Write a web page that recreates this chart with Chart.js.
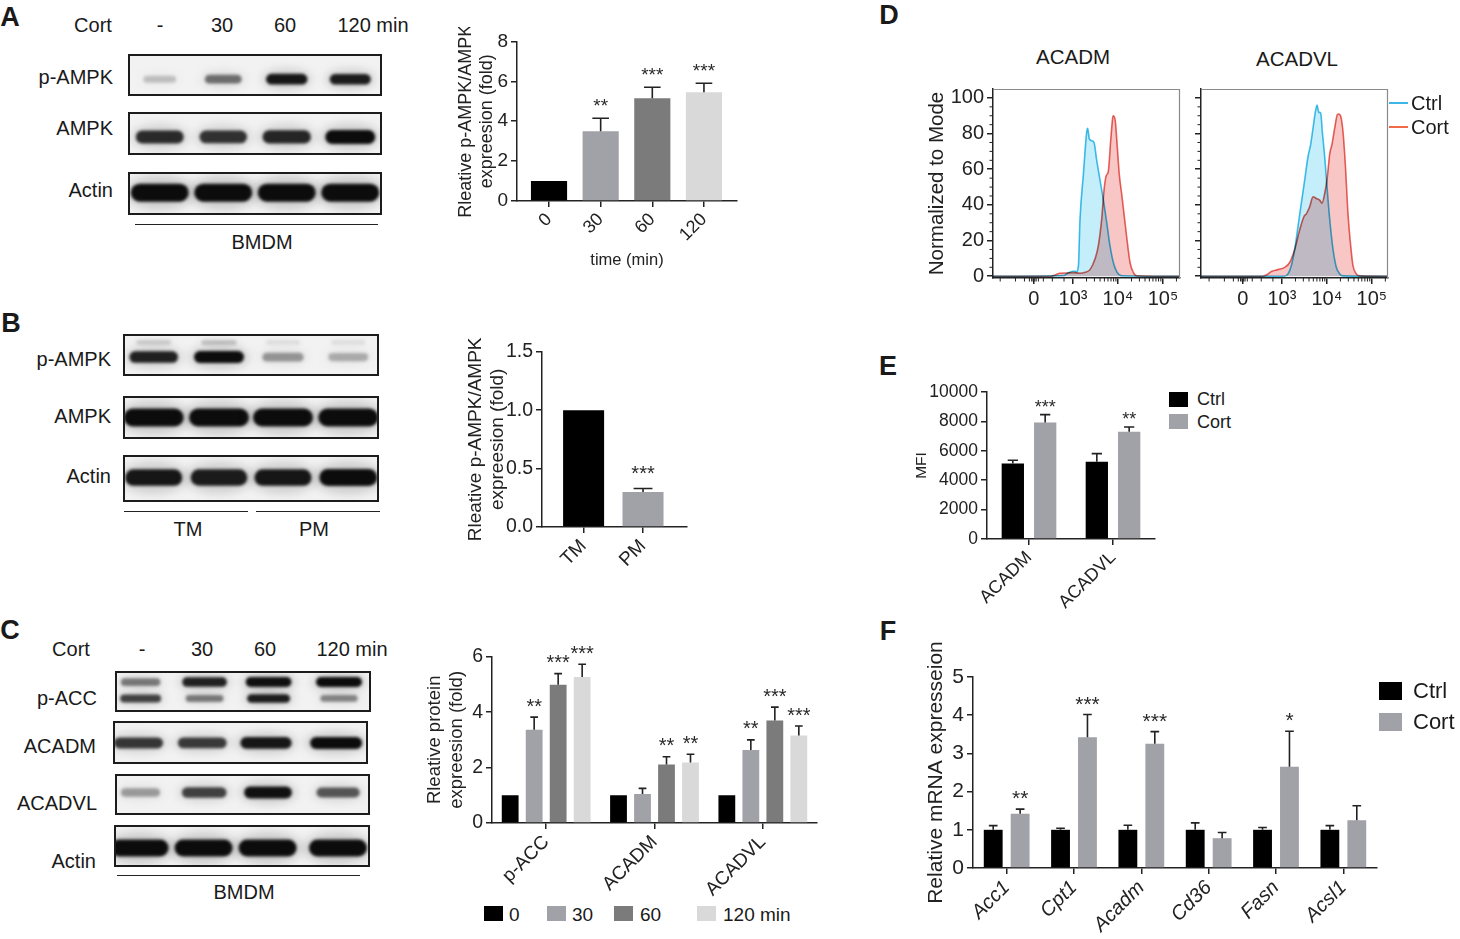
<!DOCTYPE html>
<html>
<head>
<meta charset="utf-8">
<title>Cort / AMPK figure</title>
<script src="https://cdn.jsdelivr.net/npm/chart.js@4.4.1/dist/chart.umd.min.js"></script>
<style>
  html, body { margin: 0; padding: 0; background: #fff; }
  body { position: relative; width: 1460px; height: 939px; overflow: hidden;
         font-family: 'Liberation Sans', Arial, sans-serif; color: #1a1a1a; }
  canvas { position: absolute; }
  .t { position: absolute; white-space: nowrap; line-height: 1; }
  .rule { position: absolute; height: 0; border-top: 1.5px solid #222; }
  .key { position: absolute; }
</style>
</head>
<body>
<script>
// ---------- data ----------

// A: p-AMPK/AMPK over time
const timeLabels = ['0', '30', '60', '120'];
const timeFold = [1.0, 3.5, 5.15, 5.45];
const timeErr = [null, 4.15, 5.7, 5.9];
const timeStars = ['', '**', '***', '***'];

// B: TM vs PM
const siteLabels = ['TM', 'PM'];
const siteFold = [1.0, 0.30];
const siteErr = [null, 0.33];
const siteStars = ['', '***'];

// C: protein levels, four time points
const proteinLabels = ['p-ACC', 'ACADM', 'ACADVL'];
const prot0 = [1, 1, 1];
const prot30 = [3.36, 1.05, 2.63];
const prot60 = [4.99, 2.11, 3.70];
const prot120 = [5.27, 2.18, 3.16];
const prot30Err = [3.82, 1.25, 3.0];
const prot60Err = [5.39, 2.39, 4.18];
const prot120Err = [5.73, 2.48, 3.5];
const prot30Stars = ['**', '', '**'];
const prot60Stars = ['***', '**', '***'];
const prot120Stars = ['***', '**', '***'];

// D: flow histograms (x in log10 units of intensity, y in % of mode)
const flowTickPos = [2.13, 3, 4, 5];
const flowTickLabels = ['0', '10³', '10⁴', '10⁵'];
const flowYTicks = [0, 20, 40, 60, 80, 100];
const flowMinorY = [5, 10, 15, 25, 30, 35, 45, 50, 55, 65, 70, 75, 85, 90, 95];
const flowMinorX = [1.38, 1.72, 1.92, 2.03, 2.08, 2.11, 2.15, 2.18, 2.23, 2.34, 2.54, 2.8,
  3.301, 3.477, 3.602, 3.699, 3.778, 3.845, 3.903, 3.954,
  4.301, 4.477, 4.602, 4.699, 4.778, 4.845, 4.903, 4.954, 5.301];

const acadmCtrlX = [1.22, 2.8, 2.9, 3.0, 3.08, 3.12, 3.155, 3.23, 3.305, 3.327, 3.362, 3.415, 3.467, 3.527, 3.6, 3.674, 3.75, 3.823, 3.897, 3.972, 4.083, 5.38];
const acadmCtrlY = [0, 0.4, 2.0, 2.8, 2.6, 5.9, 31.7, 57, 81, 83, 77, 76, 75, 65, 54, 43, 30, 17, 7.7, 2.6, 0.3, 0];
const acadmCortX = [1.22, 2.5, 2.6, 2.71, 2.86, 3.0, 3.155, 3.267, 3.378, 3.489, 3.563, 3.638, 3.689, 3.734, 3.786, 3.838, 3.883, 3.897, 3.941, 3.986, 4.03, 4.083, 4.134, 4.194, 4.268, 4.341, 4.417, 5.38];
const acadmCortY = [0, 0, 0.7, 1.7, 1.8, 2.0, 1.7, 2.2, 3.7, 9.6, 17, 32, 48, 56, 59, 76, 89, 90, 87, 72, 57, 46, 35, 22, 7.7, 2.2, 0.3, 0];

const acadvlCtrlX = [1.2, 3.05, 3.135, 3.209, 3.284, 3.358, 3.432, 3.507, 3.58, 3.64, 3.692, 3.743, 3.781, 3.818, 3.863, 3.899, 3.952, 4.01, 4.063, 4.137, 4.21, 4.286, 4.359, 5.36];
const acadvlCtrlY = [0, 0, 1.3, 5.9, 15, 28, 41, 54, 67, 74, 83, 92, 96, 92, 91.5, 81, 67, 48, 32, 15, 5, 1.3, 0.2, 0];
const acadvlCortX = [1.2, 2.55, 2.653, 2.764, 2.913, 3.062, 3.173, 3.284, 3.396, 3.491, 3.543, 3.618, 3.692, 3.766, 3.84, 3.892, 3.952, 4.01, 4.063, 4.114, 4.174, 4.233, 4.263, 4.308, 4.359, 4.41, 4.47, 4.53, 4.581, 4.655, 4.73, 5.36];
const acadvlCortY = [0, 0, 0.7, 2.6, 3.7, 5, 7.7, 15, 26, 33.5, 35, 39, 44.6, 43.6, 42.7, 41, 46.4, 55.6, 68.5, 74, 83, 90.6, 91, 89.7, 81, 63, 35, 17, 5.9, 1.3, 0.2, 0];

// E: MFI
const mfiLabels = ['ACADM', 'ACADVL'];
const mfiCtrl = [5140, 5250];
const mfiCtrlErr = [5360, 5810];
const mfiCort = [7920, 7290];
const mfiCortErr = [8460, 7620];
const mfiStars = ['***', '**'];

// F: mRNA
const geneLabels = ['Acc1', 'Cpt1', 'Acadm', 'Cd36', 'Fasn', 'Acsl1'];
const mrnaCtrl = [1, 1, 1, 1, 1, 1];
const mrnaCtrlErr = [1.11, 1.04, 1.12, 1.18, 1.06, 1.11];
const mrnaCort = [1.42, 3.42, 3.25, 0.78, 2.65, 1.25];
const mrnaCortErr = [1.54, 4.02, 3.57, 0.93, 3.58, 1.63];
const mrnaStars = ['**', '***', '***', '', '*', ''];

// western blot band darkness per lane (0..1)
const blotA_pAMPK = [0.2, 0.55, 0.95, 0.92];
const blotA_AMPK = [0.85, 0.82, 0.88, 1.0];
const blotA_Actin = [1, 1, 1, 1];
const blotB_pAMPK = [0.9, 1.0, 0.38, 0.28];
const blotB_pAMPKupper = [0.15, 0.18, 0.08, 0.08];
const blotB_AMPK = [1, 1, 1, 1];
const blotB_Actin = [0.95, 0.92, 0.95, 1];
const blotC_pACCupper = [0.5, 0.9, 0.98, 1.0];
const blotC_pACClower = [0.75, 0.5, 0.92, 0.45];
const blotC_ACADM = [0.8, 0.78, 0.95, 1.0];
const blotC_ACADVL = [0.35, 0.75, 0.98, 0.65];
const blotC_Actin = [1, 1, 1, 1];

// ---------- colours ----------
const INK = '#222';
const FONT = "'Liberation Sans', Arial, sans-serif";
const grey30 = '#a1a1a8';
const grey60 = '#7b7b7b';
const grey120 = '#d9d9d9';

Chart.defaults.font.family = FONT;
Chart.defaults.color = INK;
Chart.defaults.animation = false;
Chart.defaults.events = [];
Chart.defaults.plugins.legend.display = false;
Chart.defaults.plugins.tooltip.enabled = false;

// ---------- helpers ----------
function mount(area, pad) {
  const cv = document.createElement('canvas');
  cv.width = area.r - area.l + pad.l + pad.r;
  cv.height = area.b - area.t + pad.t + pad.b;
  cv.style.left = (area.l - pad.l) + 'px';
  cv.style.top = (area.t - pad.t) + 'px';
  document.body.appendChild(cv);
  return cv;
}

function axisLines() {
  return {
    grid: { drawOnChartArea: false, color: INK, lineWidth: 1.5, tickLength: 6, offset: false },
    border: { color: INK, width: 1.5 }
  };
}

function yScale(o, width) {
  return Object.assign({
    min: o.min, max: o.max,
    ticks: { stepSize: o.step, font: { size: o.font }, color: INK, padding: 3, callback: o.fmt || (v => String(v)) },
    title: { display: !!o.title, text: o.title || '', font: { size: o.titleSize }, color: INK, padding: { top: 4, bottom: 4 } },
    afterFit: s => { s.width = width; }
  }, axisLines());
}

function xCategory(o, height) {
  return Object.assign({
    type: 'category', offset: true,
    ticks: { font: { size: o.font, style: o.style || 'normal' }, color: INK, minRotation: 45, maxRotation: 45, autoSkip: false, padding: 2 },
    afterFit: s => { s.height = height; }
  }, axisLines());
}

function xIndex(o, height) {
  return Object.assign({
    type: 'linear', min: o.min, max: o.max, offset: false,
    afterBuildTicks: s => { s.ticks = o.labels.map((_, i) => ({ value: i })); },
    ticks: { font: { size: o.font }, color: INK, minRotation: 45, maxRotation: 45, autoSkip: false, padding: 2,
             callback: v => o.labels[Math.round(v)] },
    title: { display: !!o.title, text: o.title || '', font: { size: o.titleSize }, color: INK, padding: { top: 4, bottom: 4 } },
    afterFit: s => { s.height = height; }
  }, axisLines());
}

// error caps and significance stars on top of the bars
const errorBars = {
  id: 'errorBars',
  afterDatasetsDraw(chart, args, o) {
    const ctx = chart.ctx;
    const ys = chart.scales.y;
    ctx.save();
    chart.data.datasets.forEach((ds, di) => {
      chart.getDatasetMeta(di).data.forEach((bar, i) => {
        let top = bar.y;
        const e = ds.errTop ? ds.errTop[i] : null;
        if (e != null) {
          top = ys.getPixelForValue(e);
          const half = bar.width * 0.23;
          ctx.strokeStyle = INK;
          ctx.lineWidth = 1.6;
          ctx.beginPath();
          ctx.moveTo(bar.x, bar.y);
          ctx.lineTo(bar.x, top);
          ctx.moveTo(bar.x - half, top);
          ctx.lineTo(bar.x + half, top);
          ctx.stroke();
        }
        const s = ds.stars ? ds.stars[i] : '';
        if (s) {
          ctx.fillStyle = '#2a2a2a';
          ctx.font = o.size + 'px ' + FONT;
          ctx.textAlign = 'center';
          ctx.textBaseline = 'alphabetic';
          ctx.fillText(s, bar.x, top - o.gap + 0.58 * o.size);
        }
      });
    });
    ctx.restore();
  }
};

function barChart(area, pad, o) {
  const cv = mount(area, pad);
  return new Chart(cv, {
    type: 'bar',
    data: { labels: o.labels, datasets: o.datasets },
    options: {
      responsive: false,
      layout: { padding: { top: pad.t, right: pad.r, left: 0, bottom: 0 } },
      datasets: { bar: { categoryPercentage: o.catPct, barPercentage: o.barPct, borderWidth: 0 } },
      scales: { x: o.x, y: o.y },
      plugins: { errorBars: o.stars }
    },
    plugins: [errorBars]
  });
}

const pts = (xs, ys) => xs.map((x, i) => ({ x: x, y: ys[i] }));

// fills multiply so the overlap turns grey-blue as in the cytometry overlay
const multiplyFill = {
  id: 'multiplyFill',
  beforeDatasetsDraw(chart) { chart.ctx.save(); chart.ctx.globalCompositeOperation = 'multiply'; },
  afterDatasetsDraw(chart) { chart.ctx.restore(); }
};

const flowFrame = {
  id: 'flowFrame',
  afterDraw(chart, args, o) {
    const { ctx, chartArea: a, scales } = chart;
    ctx.save();
    ctx.strokeStyle = '#8a8a8a';
    ctx.lineWidth = 1.2;
    ctx.beginPath();
    ctx.moveTo(a.left, a.top + 0.5);
    ctx.lineTo(a.right - 0.5, a.top + 0.5);
    ctx.lineTo(a.right - 0.5, a.bottom);
    ctx.stroke();
    ctx.strokeStyle = INK;
    ctx.lineWidth = 1;
    ctx.beginPath();
    o.minorX.forEach(v => {
      const px = scales.x.getPixelForValue(v);
      ctx.moveTo(px, a.bottom); ctx.lineTo(px, a.bottom + 3.5);
    });
    o.minorY.forEach(v => {
      const py = scales.y.getPixelForValue(v);
      ctx.moveTo(a.left, py); ctx.lineTo(a.left - 3.5, py);
    });
    ctx.stroke();
    ctx.restore();
  }
};

function flowChart(area, pad, o) {
  const cv = mount(area, pad);
  return new Chart(cv, {
    type: 'line',
    data: {
      datasets: [
        { data: pts(o.ctrlX, o.ctrlY), borderColor: '#42c0ea', backgroundColor: '#c3eefa', fill: 'origin' },
        { data: pts(o.cortX, o.cortY), borderColor: '#e6655e', backgroundColor: '#f9c6c6', fill: 'origin' }
      ]
    },
    options: {
      responsive: false,
      layout: { padding: { top: pad.t, right: pad.r, left: 0, bottom: 0 } },
      elements: { point: { radius: 0 }, line: { borderWidth: 1.6, cubicInterpolationMode: 'monotone' } },
      scales: {
        x: Object.assign({
          type: 'linear', min: o.min, max: o.max,
          afterBuildTicks: s => { s.ticks = flowTickPos.map(v => ({ value: v })); },
          ticks: { font: { size: 20 }, color: INK, minRotation: 0, maxRotation: 0, padding: 3,
                   callback: (v, i) => flowTickLabels[i] },
          afterFit: s => { s.height = pad.b; }
        }, axisLines()),
        y: Object.assign({
          min: -1, max: 105,
          afterBuildTicks: s => { s.ticks = flowYTicks.map(v => ({ value: v })); },
          ticks: { font: { size: 20 }, color: INK, padding: 3, callback: v => o.showY ? String(v) : '' },
          title: { display: o.showY, text: 'Normalized to Mode', font: { size: 20.5 }, color: INK, padding: { top: 4, bottom: 4 } },
          afterFit: s => { s.width = pad.l; }
        }, axisLines())
      },
      plugins: { flowFrame: { minorX: flowMinorX, minorY: flowMinorY } }
    },
    plugins: [multiplyFill, flowFrame]
  });
}

function label(text, x, y, size, opts) {
  opts = opts || {};
  const d = document.createElement('div');
  d.className = 't';
  d.textContent = text;
  d.style.fontSize = size + 'px';
  if (opts.bold) d.style.fontWeight = 'bold';
  d.style.left = x + 'px';
  d.style.top = y + 'px';
  const ax = opts.align === 'right' ? '-100%' : opts.align === 'left' ? '0' : '-50%';
  d.style.transform = 'translate(' + ax + ', -50%)';
  document.body.appendChild(d);
}

function rule(x1, x2, y) {
  const d = document.createElement('div');
  d.className = 'rule';
  d.style.left = x1 + 'px';
  d.style.top = y + 'px';
  d.style.width = (x2 - x1) + 'px';
  document.body.appendChild(d);
}

function swatch(x, y, w, h, color) {
  const d = document.createElement('div');
  d.className = 'key';
  d.style.cssText += 'left:' + x + 'px;top:' + y + 'px;width:' + w + 'px;height:' + h + 'px;background:' + color;
  document.body.appendChild(d);
}

function lineKey(x, y, w, color) {
  const d = document.createElement('div');
  d.className = 'key';
  d.style.cssText += 'left:' + x + 'px;top:' + (y - 1) + 'px;width:' + w + 'px;height:0;border-top:2.5px solid ' + color;
  document.body.appendChild(d);
}

function drawBlot(box, bands, lanes) {
  const cv = document.createElement('canvas');
  cv.width = box.w; cv.height = box.h;
  cv.style.left = box.x + 'px';
  cv.style.top = box.y + 'px';
  document.body.appendChild(cv);
  const ctx = cv.getContext('2d');
  ctx.fillStyle = '#f2f2f2';
  ctx.fillRect(0, 0, box.w, box.h);
  bands.forEach(b => {
    b.level.forEach((v, i) => {
      const cx = lanes[i] * box.w, cy = b.pos * box.h;
      const bw = b.w * (0.72 + 0.28 * v), bh = b.h * (0.55 + 0.45 * v);
      ctx.filter = 'blur(5px)';
      ctx.fillStyle = 'rgba(70,70,70,' + (0.22 * v) + ')';
      ctx.beginPath();
      ctx.ellipse(cx, cy, bw * 0.6, bh * 0.95, 0, 0, Math.PI * 2);
      ctx.fill();
      ctx.filter = 'blur(1.8px)';
      ctx.fillStyle = 'rgba(12,12,12,' + Math.min(1, v) + ')';
      ctx.beginPath();
      ctx.roundRect(cx - bw / 2, cy - bh / 2, bw, bh, bh / 2);
      ctx.fill();
    });
  });
  ctx.filter = 'none';
  ctx.strokeStyle = '#1c1c1c';
  ctx.lineWidth = 2;
  ctx.strokeRect(1, 1, box.w - 2, box.h - 2);
}

// ---------- panel A ----------
label('A', 10, 17, 27, { bold: true });
label('Cort', 93, 25, 20); label('-', 160, 25, 20); label('30', 222, 25, 20);
label('60', 285, 25, 20); label('120 min', 373, 25, 20);
label('p-AMPK', 113, 77, 20, { align: 'right' });
label('AMPK', 113, 128, 20, { align: 'right' });
label('Actin', 113, 190, 20, { align: 'right' });
const lanesA = [0.125, 0.375, 0.625, 0.875];
drawBlot({ x: 128, y: 54, w: 254, h: 42 }, [{ pos: 0.6, w: 42, h: 11, level: blotA_pAMPK }], lanesA);
drawBlot({ x: 128, y: 112, w: 254, h: 43 }, [{ pos: 0.58, w: 50, h: 14, level: blotA_AMPK }], lanesA);
drawBlot({ x: 128, y: 172, w: 254, h: 43 }, [{ pos: 0.48, w: 58, h: 18, level: blotA_Actin }], lanesA);
rule(135, 378, 224);
label('BMDM', 262, 242, 20);

barChart({ l: 517, r: 737, t: 41, b: 201 }, { l: 66, r: 12, t: 14, b: 73 }, {
  datasets: [{ data: pts(timeLabels.map((_, i) => i), timeFold), backgroundColor: ['#000000', grey30, grey60, grey120],
               errTop: timeErr, stars: timeStars }],
  catPct: 1, barPct: 0.7,
  x: xIndex({ min: -0.62, max: 3.64, labels: timeLabels, font: 18, title: 'time (min)', titleSize: 16.5 }, 73),
  y: yScale({ min: 0, max: 8, step: 2, font: 19, title: ['Rleative p-AMPK/AMPK', 'expreesion (fold)'], titleSize: 18 }, 66),
  stars: { size: 19, gap: 17 }
});

// ---------- panel B ----------
label('B', 11, 323, 27, { bold: true });
label('p-AMPK', 111, 359, 20, { align: 'right' });
label('AMPK', 111, 416, 20, { align: 'right' });
label('Actin', 111, 476, 20, { align: 'right' });
const lanesB = [0.12, 0.375, 0.625, 0.88];
drawBlot({ x: 123, y: 334, w: 256, h: 42 }, [
  { pos: 0.2, w: 46, h: 8, level: blotB_pAMPKupper },
  { pos: 0.55, w: 50, h: 12, level: blotB_pAMPK }], lanesB);
drawBlot({ x: 123, y: 396, w: 256, h: 43 }, [{ pos: 0.5, w: 60, h: 18, level: blotB_AMPK }], lanesB);
drawBlot({ x: 123, y: 455, w: 256, h: 47 }, [{ pos: 0.48, w: 58, h: 17, level: blotB_Actin }], lanesB);
rule(124, 248, 511); rule(256, 380, 511);
label('TM', 188, 529, 20); label('PM', 314, 529, 20);

barChart({ l: 542, r: 687, t: 351, b: 527 }, { l: 82, r: 12, t: 14, b: 45 }, {
  datasets: [{ data: pts(siteLabels.map((_, i) => i), siteFold), backgroundColor: ['#000000', grey30],
               errTop: siteErr, stars: siteStars }],
  catPct: 1, barPct: 0.69,
  x: xIndex({ min: -0.7, max: 1.74, labels: siteLabels, font: 19 }, 45),
  y: yScale({ min: 0, max: 1.5, step: 0.5, font: 19.5, fmt: v => v.toFixed(1),
              title: ['Rleative p-AMPK/AMPK', 'expreesion (fold)'], titleSize: 19 }, 82),
  stars: { size: 20, gap: 20 }
});

// ---------- panel C ----------
label('C', 10, 630, 27, { bold: true });
label('Cort', 71, 649, 20); label('-', 142, 649, 20); label('30', 202, 649, 20);
label('60', 265, 649, 20); label('120 min', 352, 649, 20);
label('p-ACC', 97, 698, 20, { align: 'right' });
label('ACADM', 96, 746, 20, { align: 'right' });
label('ACADVL', 97, 803, 20, { align: 'right' });
label('Actin', 96, 861, 20, { align: 'right' });
const lanesC = [0.1, 0.35, 0.6, 0.875];
drawBlot({ x: 115, y: 671, w: 256, h: 41 }, [
  { pos: 0.27, w: 46, h: 10, level: blotC_pACCupper },
  { pos: 0.67, w: 44, h: 9, level: blotC_pACClower }], lanesC);
drawBlot({ x: 113, y: 721, w: 255, h: 43 }, [{ pos: 0.51, w: 52, h: 12, level: blotC_ACADM }], lanesC);
drawBlot({ x: 115, y: 774, w: 255, h: 41 }, [{ pos: 0.45, w: 48, h: 12, level: blotC_ACADVL }], lanesC);
drawBlot({ x: 114, y: 825, w: 256, h: 42 }, [{ pos: 0.55, w: 58, h: 17, level: blotC_Actin }], lanesC);
rule(117, 360, 875);
label('BMDM', 244, 892, 20);

barChart({ l: 492, r: 817, t: 656, b: 823 }, { l: 72, r: 12, t: 14, b: 80 }, {
  labels: proteinLabels,
  datasets: [
    { data: prot0, backgroundColor: '#000000' },
    { data: prot30, backgroundColor: grey30, errTop: prot30Err, stars: prot30Stars },
    { data: prot60, backgroundColor: grey60, errTop: prot60Err, stars: prot60Stars },
    { data: prot120, backgroundColor: grey120, errTop: prot120Err, stars: prot120Stars }
  ],
  catPct: 0.886, barPct: 0.7,
  x: xCategory({ font: 19 }, 80),
  y: yScale({ min: 0, max: 6, step: 2, font: 19.5, title: ['Rleative protein', 'expreesion (fold)'], titleSize: 18.5 }, 72),
  stars: { size: 20, gap: 16 }
});
swatch(484, 906, 19, 15, '#000000'); label('0', 509, 914, 19, { align: 'left' });
swatch(547, 906, 19, 15, grey30); label('30', 572, 914, 19, { align: 'left' });
swatch(614, 906, 19, 15, grey60); label('60', 640, 914, 19, { align: 'left' });
swatch(697, 906, 19, 15, grey120); label('120 min', 723, 914, 19, { align: 'left' });

// ---------- panel D ----------
label('D', 889, 15, 27, { bold: true });
label('ACADM', 1073, 57, 20.5);
label('ACADVL', 1297, 59, 20.5);
flowChart({ l: 993, r: 1180, t: 86, b: 278 }, { l: 72, r: 4, t: 12, b: 36 }, {
  min: 1.22, max: 5.38, showY: true,
  ctrlX: acadmCtrlX, ctrlY: acadmCtrlY, cortX: acadmCortX, cortY: acadmCortY
});
flowChart({ l: 1201, r: 1388, t: 86, b: 278 }, { l: 10, r: 4, t: 12, b: 36 }, {
  min: 1.2, max: 5.36, showY: false,
  ctrlX: acadvlCtrlX, ctrlY: acadvlCtrlY, cortX: acadvlCortX, cortY: acadvlCortY
});
lineKey(1389, 103, 19, '#3db7e6'); label('Ctrl', 1411, 103, 20, { align: 'left' });
lineKey(1389, 127, 19, '#f2694a'); label('Cort', 1411, 127, 20, { align: 'left' });

// ---------- panel E ----------
label('E', 888, 366, 27, { bold: true });
barChart({ l: 987, r: 1155, t: 392, b: 539 }, { l: 79, r: 8, t: 14, b: 70 }, {
  labels: mfiLabels,
  datasets: [
    { data: mfiCtrl, backgroundColor: '#000000', errTop: mfiCtrlErr },
    { data: mfiCort, backgroundColor: grey30, errTop: mfiCortErr, stars: mfiStars }
  ],
  catPct: 0.77, barPct: 0.69,
  x: xCategory({ font: 18 }, 70),
  y: yScale({ min: 0, max: 10000, step: 2000, font: 17.5, title: 'MFI', titleSize: 15.5 }, 79),
  stars: { size: 18, gap: 12 }
});
swatch(1169, 392, 19, 15, '#000000'); label('Ctrl', 1197, 399, 18, { align: 'left' });
swatch(1169, 414, 19, 15, grey30); label('Cort', 1197, 422, 18, { align: 'left' });

// ---------- panel F ----------
label('F', 888, 631, 27, { bold: true });
barChart({ l: 973, r: 1377, t: 677, b: 868 }, { l: 53, r: 8, t: 52, b: 70 }, {
  labels: geneLabels,
  datasets: [
    { data: mrnaCtrl, backgroundColor: '#000000', errTop: mrnaCtrlErr },
    { data: mrnaCort, backgroundColor: grey30, errTop: mrnaCortErr, stars: mrnaStars }
  ],
  catPct: 0.8, barPct: 0.7,
  x: xCategory({ font: 20, style: 'italic' }, 70),
  y: yScale({ min: 0, max: 5, step: 1, font: 21, title: 'Relative mRNA expresseion', titleSize: 21 }, 53),
  stars: { size: 21, gap: 16 }
});
swatch(1379, 682, 23, 18, '#000000'); label('Ctrl', 1413, 691, 22, { align: 'left' });
swatch(1379, 713, 23, 18, grey30); label('Cort', 1413, 722, 22, { align: 'left' });
</script>
</body>
</html>
